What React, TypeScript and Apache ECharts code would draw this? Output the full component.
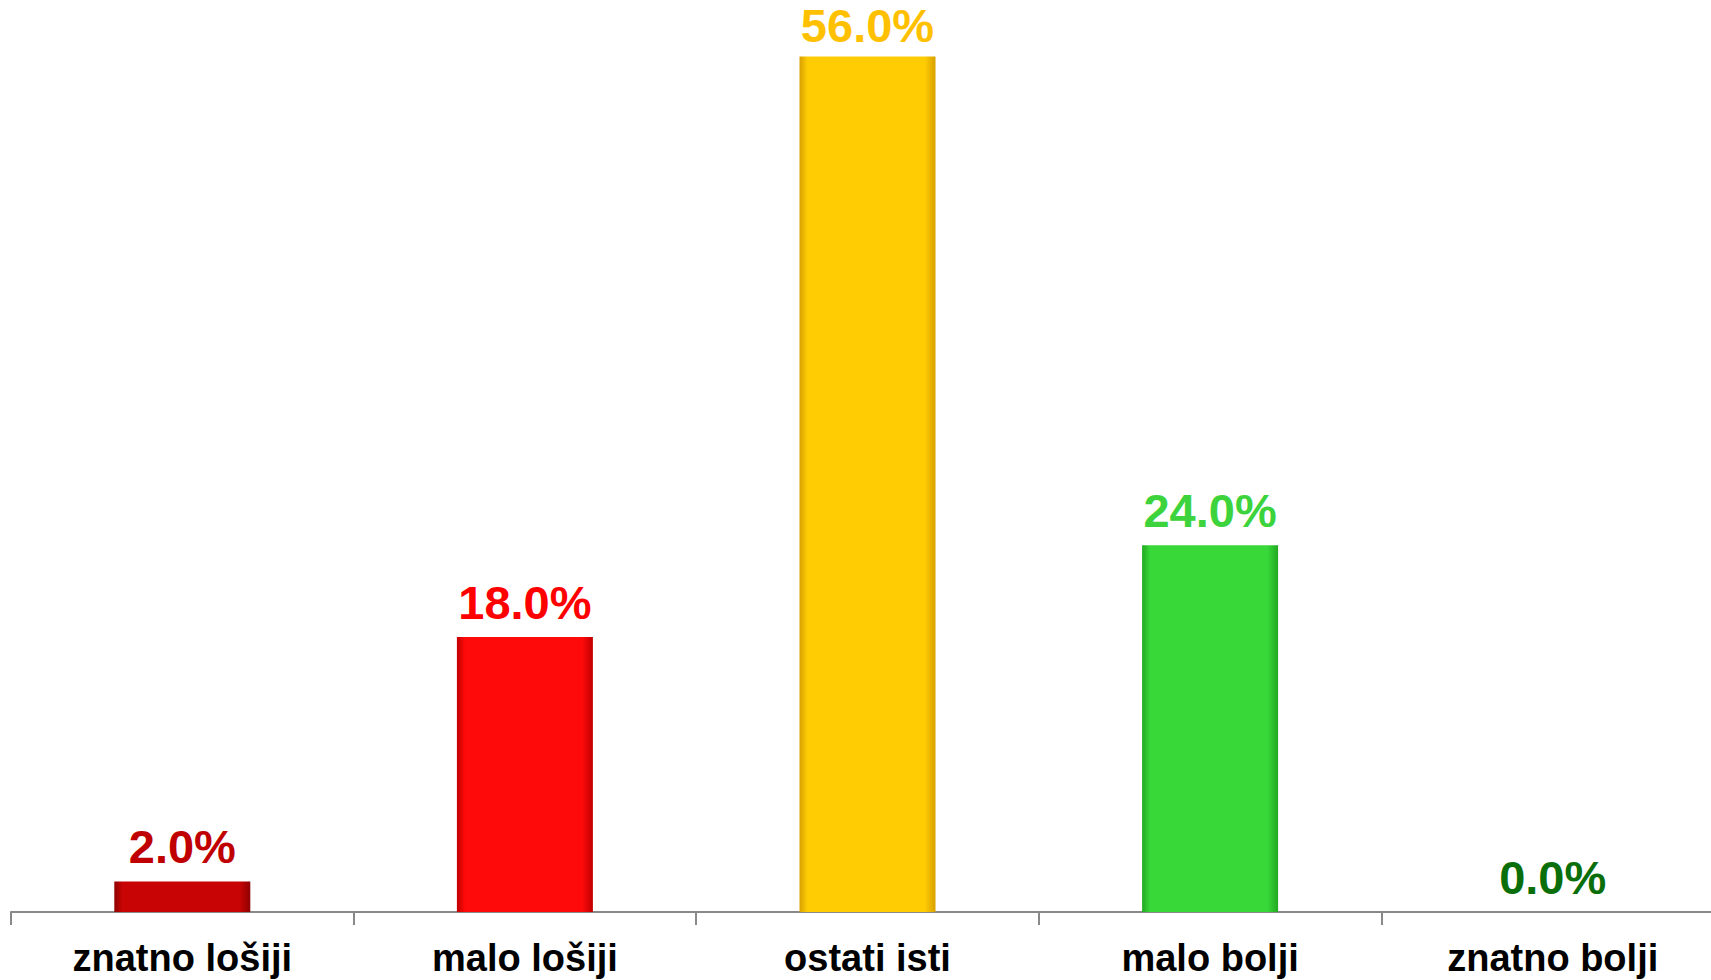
import React, { useEffect, useRef } from "react";
import * as echarts from "echarts";

const categories = ["znatno lošiji", "malo lošiji", "ostati isti", "malo bolji", "znatno bolji"];
const values = [2.0, 18.0, 56.0, 24.0, 0.0];

const barColors = ["#c80404", "#ff0a0a", "#ffcc04", "#38d838", "#0a7a0a"];
const edgeColors = ["#8e0000", "#c00000", "#d8a000", "#22a822", "#055505"];
const labelColors = ["#c00000", "#ff0000", "#ffc000", "#3cd33c", "#0a6e0a"];

const FONT = "'Liberation Sans', Arial, sans-serif";

export default function App() {
  const ref = useRef<HTMLDivElement>(null);
  useEffect(() => {
    if (!ref.current) return;
    const chart = echarts.init(ref.current, null, { renderer: "svg" });
    const maxV = Math.max(...values);
    const data = values.map((v, i) => ({
      value: v,
      itemStyle: {
        color: new echarts.graphic.LinearGradient(0, 0, 1, 0, [
          { offset: 0, color: edgeColors[i] },
          { offset: 0.06, color: barColors[i] },
          { offset: 0.92, color: barColors[i] },
          { offset: 1, color: edgeColors[i] },
        ]),
      },
      label: { color: labelColors[i], distance: v === maxV ? 8 : 11 },
    }));
    chart.setOption({
      animation: false,
      backgroundColor: "#ffffff",
      grid: { left: 11, right: 0, top: 0, bottom: 68, containLabel: false },
      xAxis: {
        type: "category",
        data: categories,
        boundaryGap: true,
        axisLine: { show: true, lineStyle: { color: "#898989", width: 2 } },
        axisTick: { show: true, length: 13, lineStyle: { color: "#898989", width: 2 } },
        axisLabel: {
          margin: 27,
          color: "#000000",
          fontSize: 38,
          fontWeight: "bold",
          fontFamily: FONT,
          interval: 0,
        },
      },
      yAxis: {
        type: "value",
        min: 0,
        max: 59.7,
        show: false,
        splitLine: { show: false },
      },
      series: [
        {
          type: "bar",
          data,
          barWidth: 136,
          label: {
            show: true,
            position: "top",
            fontSize: 47,
            fontWeight: "bold",
            fontFamily: FONT,
            formatter: (p: any) => `${Number(p.value).toFixed(1)}%`,
          },
        },
      ],
    });
    return () => chart.dispose();
  }, []);
  return (
    <div
      style={{
        position: "fixed",
        left: 0,
        top: 0,
        width: 1711,
        height: 980,
        overflow: "hidden",
        background: "#ffffff",
      }}
    >
      <div ref={ref} style={{ width: 1724, height: 980 }} />
    </div>
  );
}
